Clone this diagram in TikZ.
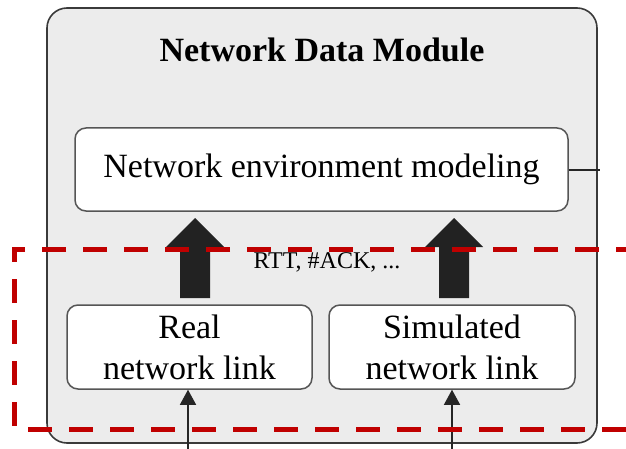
\documentclass[tikz,border=0pt]{standalone}
\usepackage{fontspec}
\setmainfont{Liberation Serif}
\usetikzlibrary{arrows.meta}
\definecolor{modfill}{HTML}{ECECEC}
\definecolor{modline}{HTML}{3A3A3A}
\definecolor{boxline}{HTML}{555555}
\definecolor{dashred}{HTML}{C00000}
\definecolor{arrowfill}{HTML}{222222}
\tikzset{
  module/.style={draw=modline, fill=modfill, line width=1.6pt, rounded corners=20pt},
  innerbox/.style={draw=boxline, fill=white, line width=1.5pt, rounded corners=11pt, inner sep=0pt, align=center},
  bigarrow/.style={fill=arrowfill, draw=none},
  thin/.style={draw=black!85, line width=1.3pt},
  smallarrow/.style={thin, -{Triangle[length=15pt,width=16pt]}},
  redbox/.style={draw=dashred, line width=5pt, dash pattern=on 24pt off 17pt, line join=miter},
  txt/.style={font=\fontsize{34}{41}\selectfont},
}
\begin{document}
\begin{tikzpicture}[x=1pt,y=-1pt]
\useasboundingbox (0,0) rectangle (626,449);
% outer module
\draw[module] (47,8) rectangle (597,443);
\node[font=\bfseries\fontsize{34}{41}\selectfont, anchor=center] (title) at (322,50) {Network Data Module};
% environment box
\node[innerbox, txt, minimum width=493pt, minimum height=83pt] (env) at (321.5,169.5) {Network environment modeling};
\coordinate (envout) at (600,170);
\draw[thin] (env.east |- envout) -- (envout);
% lower boxes
\node[innerbox, txt, minimum width=245pt, minimum height=84pt] (real) at (189.5,347) {Real\\network link};
\node[innerbox, txt, minimum width=246pt, minimum height=84pt] (sim) at (452,347) {Simulated\\network link};
% big arrows
\foreach \cx in {195, 454}{
  \fill[bigarrow] (\cx-15,298) -- (\cx-15,247) -- (\cx-29,247) -- (\cx,218) -- (\cx+29,247) -- (\cx+15,247) -- (\cx+15,298) -- cycle;
}
\node[font=\fontsize{24}{28}\selectfont] (lbl) at (327,262) {RTT, \#ACK, ...};
% small arrows
\coordinate (rin) at (188,449);
\coordinate (sin) at (452,449);
\draw[smallarrow] (rin) -- (real.south -| rin);
\draw[smallarrow] (sin) -- (sim.south -| sin);
% red dashed region
\draw[redbox] (640,249) -- (14,249) -- (14,429) -- (640,429);
\end{tikzpicture}
\end{document}
